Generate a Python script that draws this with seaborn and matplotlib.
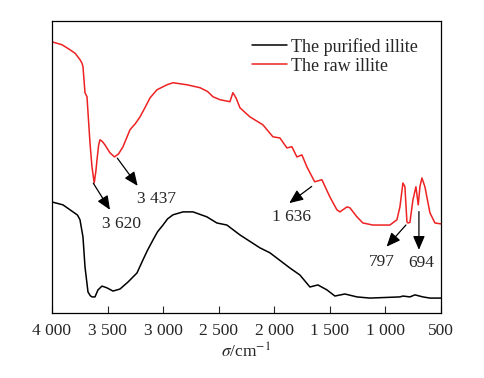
import numpy as np
import pandas as pd
import seaborn as sns
import matplotlib.pyplot as plt
from matplotlib.ticker import FuncFormatter

# wavenumber (cm-1) and relative transmittance (a.u.)
raw_wn = [4000, 3910, 3838, 3790, 3748, 3730, 3721, 3703, 3685, 3658, 3640, 3620,
          3605, 3595, 3580, 3568, 3545, 3523, 3478, 3437, 3400, 3361, 3298, 3250,
          3208, 3160, 3118, 3055, 2965, 2911, 2785, 2668, 2600, 2551, 2489, 2399,
          2372, 2344, 2308, 2218, 2102, 2012, 1949, 1886, 1841, 1796, 1751, 1706,
          1636, 1571, 1499, 1436, 1409, 1346, 1319, 1256, 1202, 1112, 959, 896,
          869, 842, 824, 806, 797, 779, 752, 725, 704, 689, 671, 644, 599, 554, 500]
raw_t = [92.8, 91.8, 90.1, 88.8, 86.7, 85.5, 84.3, 75.4, 74.0, 58.2, 50.0, 44.5,
         48.5, 52.4, 57.5, 59.3, 58.6, 57.5, 54.8, 53.4, 54.5, 56.9, 62.7, 64.8,
         67.1, 70.5, 73.6, 76.4, 78.1, 78.8, 78.1, 77.1, 75.8, 74.0, 73.0, 72.3,
         75.4, 73.6, 70.2, 67.1, 64.4, 60.3, 59.9, 56.5, 56.9, 53.4, 54.1, 50.0,
         44.9, 45.6, 39.7, 35.3, 34.6, 36.3, 36.0, 32.9, 30.8, 30.1, 30.1, 31.9,
         36.3, 44.5, 43.2, 31.2, 30.8, 31.0, 38.7, 43.2, 37.0, 43.2, 46.2, 43.2,
         34.3, 30.8, 30.5]

pur_wn = [4000, 3901, 3811, 3770, 3748, 3721, 3703, 3676, 3655, 3640, 3613, 3586,
          3550, 3505, 3451, 3388, 3316, 3235, 3181, 3140, 3091, 3050, 3001, 2960,
          2911, 2821, 2731, 2606, 2516, 2426, 2308, 2129, 2039, 1859, 1769, 1679,
          1607, 1526, 1454, 1364, 1256, 1139, 869, 842, 779, 734, 662, 599, 500]
pur_t = [38.0, 37.0, 34.6, 33.5, 31.9, 26.0, 15.8, 7.2, 5.9, 5.5, 5.5, 7.9,
         9.2, 8.6, 7.5, 8.2, 10.6, 13.7, 18.2, 21.5, 25.0, 27.8, 30.1, 32.2,
         33.6, 34.6, 34.6, 32.9, 30.8, 30.1, 26.7, 22.3, 20.6, 15.4, 13.0, 8.9,
         9.6, 7.9, 5.8, 6.5, 5.5, 5.1, 5.5, 5.8, 5.5, 6.2, 5.5, 5.1, 5.1]

# peak labels: text, label position, arrow tail, arrow head
peak_labels = ['3 620', '3 437', '1 636', '797', '694']
label_pos = [(3373, 30.4), (3058, 39.0), (1843, 33.0), (1034, 17.6), (674, 17.0)]
arrow_tail = [(3628, 44.4), (3412, 53.0), (1663, 43.3), (815, 30.1), (698, 34.7)]
arrow_head = [(3478, 35.3), (3229, 43.5), (1865, 37.6), (989, 22.7), (698, 21.6)]

sns.set_style('ticks')
plt.rcParams['font.family'] = ['Liberation Serif', 'DejaVu Serif']
plt.rcParams['mathtext.fontset'] = 'stix'

df = pd.concat([
    pd.DataFrame({'wn': pur_wn, 't': pur_t, 'sample': 'The purified illite'}),
    pd.DataFrame({'wn': raw_wn, 't': raw_t, 'sample': 'The raw illite'}),
])

fig = plt.figure(figsize=(4.84, 3.78), dpi=100)
ax = fig.add_axes([0.1074, 0.172, 0.8036, 0.773])

sns.lineplot(data=df, x='wn', y='t', hue='sample', sort=False,
             palette={'The purified illite': 'black', 'The raw illite': '#ee2222'},
             linewidth=1.1, ax=ax)

ax.set_xlim(4000, 500)
ax.set_ylim(0, 100)
ax.set_xticks(np.arange(4000, 499, -500))
ax.xaxis.set_major_formatter(FuncFormatter(lambda v, p: f'{int(v):,}'.replace(',', ' ')))
ax.set_yticks([])
ax.tick_params(axis='x', direction='in', length=5, width=0.8, pad=7, labelsize=12.5)
ax.set_xlabel(r'$\sigma$/cm$^{-1}$', fontsize=12.5, labelpad=3)
ax.set_ylabel('')
for s in ax.spines.values():
    s.set_linewidth(0.9)
    s.set_color('black')

for txt, pos, tail, head in zip(peak_labels, label_pos, arrow_tail, arrow_head):
    ax.annotate('', xy=head, xytext=tail,
                arrowprops=dict(arrowstyle='-|>,head_length=0.7,head_width=0.3',
                                color='black', lw=0.9, mutation_scale=12,
                                shrinkA=0, shrinkB=0))
    ax.text(pos[0], pos[1], txt, ha='center', va='center', fontsize=12.5)

ax.legend(loc='upper right', frameon=False, fontsize=13, handlelength=1.9,
          handletextpad=0.25, borderaxespad=0.55, labelspacing=0.1,
          bbox_to_anchor=(0.985, 1.0))

fig.savefig('out.png', dpi=100)
